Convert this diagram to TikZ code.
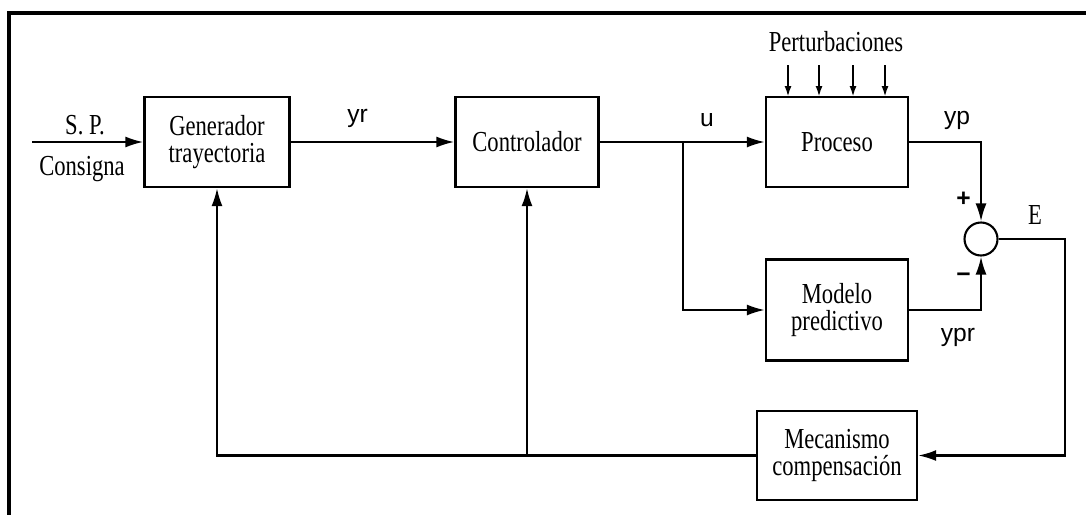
\documentclass[tikz,border=0pt]{standalone}
\usepackage{fontspec}
\setmainfont{Liberation Serif}[FakeStretch=0.78]
\newfontfamily\lblfont{Liberation Sans}
\usetikzlibrary{arrows.meta}

\begin{document}
\begin{tikzpicture}[line width=1.2pt, font=\fontsize{16.5}{15.5}\selectfont,
  blk/.style={draw, line width=1.3pt, align=center, inner sep=0pt},
  arr/.style={-{Latex[length=3.6mm,width=2.2mm]}},
  smallarr/.style={-{Latex[length=2.2mm,width=1.4mm]}},
  sig/.style={font=\lblfont\fontsize{14}{14}\selectfont},
  sgn/.style={font=\lblfont\bfseries\fontsize{14}{14}\selectfont}]
\useasboundingbox (0,0) rectangle (21.72,-10.3);
% frame
\draw[line width=1.8pt] (21.72,-0.26) -- (0.18,-0.26) -- (0.18,-10.3);
% blocks
\node[blk, minimum width=2.9cm, minimum height=1.8cm] (gen) at (4.34,-2.84) {Generador\\trayectoria};
\node[blk, minimum width=2.86cm, minimum height=1.8cm] (ctrl) at (10.54,-2.84) {Controlador};
\node[blk, minimum width=2.84cm, minimum height=1.8cm] (proc) at (16.74,-2.84) {Proceso};
\node[blk, minimum width=2.84cm, minimum height=2.02cm] (mod) at (16.74,-6.2) {Modelo\\predictivo};
\node[blk, minimum width=3.2cm, minimum height=1.78cm] (mec) at (16.74,-9.11) {Mecanismo\\compensación};
\node[draw, circle, line width=1.2pt, minimum size=0.66cm, inner sep=0pt] (sum) at (19.62,-4.78) {};
% input
\coordinate (in) at (0.64,-2.84);
\draw[arr] (in) -- (gen.west);
\node at (1.7,-2.5) {S. P.}; \node at (1.64,-3.38) {Consigna};
% forward path
\draw[arr] (gen.east) -- (ctrl.west) node[sig, midway, above=4pt, xshift=-0.3cm] {yr};
\coordinate (br) at (13.66,-2.84);
\draw[arr] (ctrl.east) -- (proc.west); \node[sig] at (14.14,-2.4) {u};
\draw[arr] (br) |- (mod.west);
\draw[arr] (proc.east) -| (sum.north); \node[sig] at (19.14,-2.4) {yp};
\draw[arr] (mod.east) -| (sum.south); \node[sig] at (19.16,-6.74) {ypr};
\node[sgn] at (19.27,-3.98) {+};
\node[sgn] at (19.27,-5.56) {\textminus};
% disturbances
\node at (16.72,-0.84) {Perturbaciones};
\foreach \x in {15.76,16.38,17.06,17.7} \draw[smallarr] (\x,-1.3) -- (\x,-1.94);
% error and compensation
\coordinate (er) at (21.3,-4.78);
\draw[arr] (sum.east) -- (er) |- (mec.east); \node at (20.7,-4.3) {E};
\coordinate (fb) at (gen.south |- mec.west);
\draw[arr] (mec.west) -- (fb) -- (gen.south);
\draw[arr] (ctrl.south |- mec.west) -- (ctrl.south);
\end{tikzpicture}
\end{document}
